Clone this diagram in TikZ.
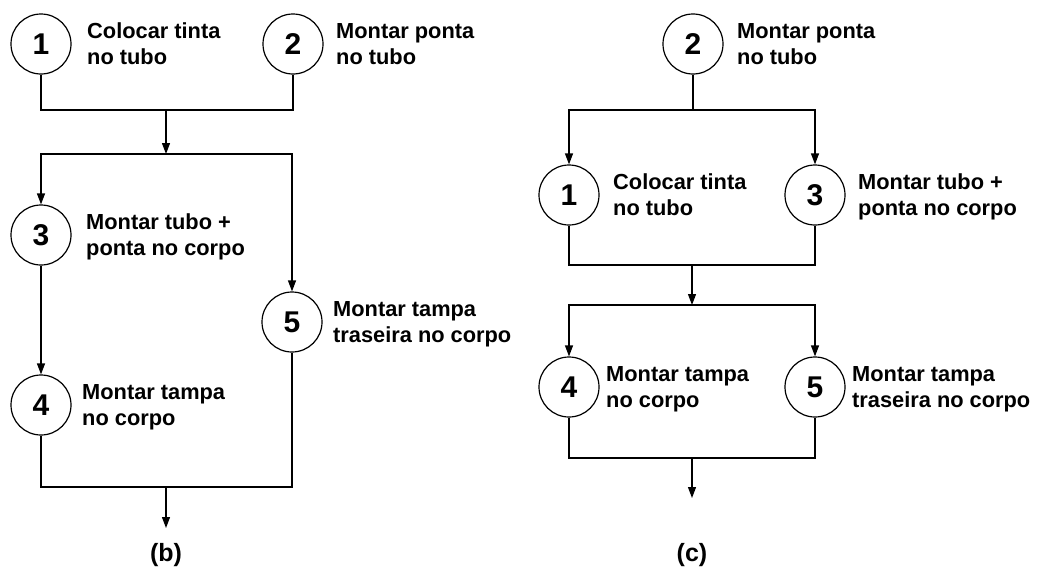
\documentclass[tikz,border=0pt]{standalone}
\usepackage{fontspec}
\setmainfont{Liberation Sans}
\usetikzlibrary{arrows.meta}
\tikzset{
  stepcirc/.style={circle, draw, line width=1.2pt, minimum size=60pt, inner sep=0pt, font=\fontsize{30}{32}\selectfont\bfseries},
  lbl/.style={anchor=west, align=left, inner sep=0pt, text depth=0pt, font=\fontsize{21.8}{26}\selectfont\bfseries},
  figcaption/.style={font=\fontsize{25}{28}\selectfont\bfseries},
  conn/.style={line width=1.2pt},
  arr/.style={line width=1.2pt, -{Triangle[length=11pt,width=8pt]}}
}
\begin{document}
\begin{tikzpicture}[x=1pt,y=-1pt]
\useasboundingbox (0,0) rectangle (1038,570);
% ---------- (b) ----------
\node[stepcirc] (b1) at (41,44) {1};
\node[stepcirc] (b2) at (293,44) {2};
\node[stepcirc] (b3) at (41,235) {3};
\node[stepcirc] (b4) at (41,405) {4};
\node[stepcirc] (b5) at (292,322) {5};
\node[lbl] (tb1) at (87,44) {Colocar tinta\\no tubo};
\node[lbl] (tb2) at (336,44) {Montar ponta\\no tubo};
\node[lbl] (tb3) at (86,235) {Montar tubo +\\ponta no corpo};
\node[lbl] (tb4) at (82,405) {Montar tampa\\no corpo};
\node[lbl] (tb5) at (333,322) {Montar tampa\\traseira no corpo};
\coordinate (bj1) at (166,110);
\coordinate (bj2) at (166,154);
\coordinate (bj3) at (166,487);
\coordinate (bend) at (166,528);
\draw[conn] (b1) |- (bj1) -| (b2);
\draw[arr] (bj1) -- (bj2);
\draw[arr] (bj2) -| (b3);
\draw[arr] (bj2) -| (b5);
\draw[arr] (b3) -- (b4);
\draw[conn] (b4) |- (bj3) -| (b5);
\draw[arr] (bj3) -- (bend);
\node[figcaption] (capb) at (166,555) {(b)};
% ---------- (c) ----------
\node[stepcirc] (c2) at (693,44) {2};
\node[stepcirc] (c1) at (569,195) {1};
\node[stepcirc] (c3) at (815,195) {3};
\node[stepcirc] (c4) at (569,387) {4};
\node[stepcirc] (c5) at (815,387) {5};
\node[lbl] (tc2) at (737,44) {Montar ponta\\no tubo};
\node[lbl] (tc1) at (613,195) {Colocar tinta\\no tubo};
\node[lbl] (tc3) at (858,195) {Montar tubo +\\ponta no corpo};
\node[lbl] (tc4) at (606,387) {Montar tampa\\no corpo};
\node[lbl] (tc5) at (852,387) {Montar tampa\\traseira no corpo};
\coordinate (cj1) at (693,110);
\coordinate (cj2) at (692,265);
\coordinate (cj3) at (692,305);
\coordinate (cj4) at (692,458);
\coordinate (cend) at (692,498);
\draw[conn] (c2) -- (cj1);
\draw[arr] (cj1) -| (c1);
\draw[arr] (cj1) -| (c3);
\draw[conn] (c1) |- (cj2) -| (c3);
\draw[arr] (cj2) -- (cj3);
\draw[arr] (cj3) -| (c4);
\draw[arr] (cj3) -| (c5);
\draw[conn] (c4) |- (cj4) -| (c5);
\draw[arr] (cj4) -- (cend);
\node[figcaption] (capc) at (692,555) {(c)};
\end{tikzpicture}
\end{document}
